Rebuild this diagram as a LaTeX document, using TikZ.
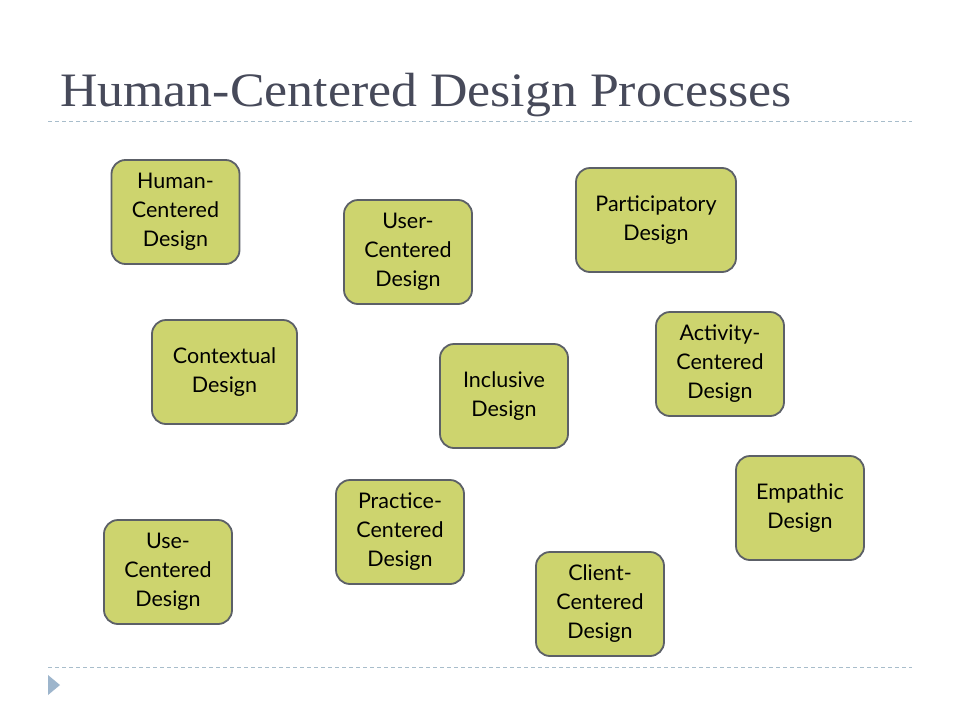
\documentclass[tikz,border=0pt]{standalone}
\usepackage{fontspec}
\setmainfont{Liberation Serif}
\newfontfamily\boxfont{Lato}
\definecolor{titlec}{HTML}{474A5A}
\definecolor{boxfill}{HTML}{CDD46E}
\definecolor{boxline}{HTML}{5C6067}
\definecolor{rulec}{HTML}{A8BDCB}
\definecolor{tric}{HTML}{9DB5CC}
\tikzset{
  hcd/.style={draw=boxline, line width=1.8pt, fill=boxfill, rounded corners=14pt,
    minimum width=128pt, minimum height=104pt, inner sep=0pt, align=center,
    font=\boxfont\fontsize{21.5}{29}\selectfont, text=black},
  ruleline/.style={draw=rulec, line width=0.9pt, dash pattern=on 4pt off 3pt}
}
\begin{document}
\begin{tikzpicture}[x=1pt,y=-1pt]
\useasboundingbox (0,0) rectangle (960,720);
\fill[white] (0,0) rectangle (960,720);
\node[anchor=base west, text=titlec, font=\fontsize{48}{54}\selectfont, inner sep=0pt] (title) at (60,106) {\scalebox{1.08}[1]{Human-Centered Design Processes}};
\coordinate (r1a) at (48,121); \coordinate (r1b) at (912,121);
\coordinate (r2a) at (48,667); \coordinate (r2b) at (912,667);
\draw[ruleline] (r1a) -- (r1b);
\draw[ruleline] (r2a) -- (r2b);
\fill[tric] (48,675) -- (60,685) -- (48,695) -- cycle;
\node[hcd] (hcd) at (175.5,212) {Human-\\Centered\\Design};
\node[hcd] (ucd) at (408,252) {User-\\Centered\\Design};
\node[hcd, minimum width=160pt] (pd) at (656,220) {Participatory\\Design};
\node[hcd, minimum width=145pt] (cd) at (224.5,372) {Contextual\\Design};
\node[hcd] (id) at (504,396) {Inclusive\\Design};
\node[hcd] (acd) at (720,364) {Activity-\\Centered\\Design};
\node[hcd] (ed) at (800,508) {Empathic\\Design};
\node[hcd] (pcd) at (400,532) {Practice-\\Centered\\Design};
\node[hcd] (usecd) at (168,572) {Use-\\Centered\\Design};
\node[hcd] (ccd) at (600,604) {Client-\\Centered\\Design};
\end{tikzpicture}
\end{document}
